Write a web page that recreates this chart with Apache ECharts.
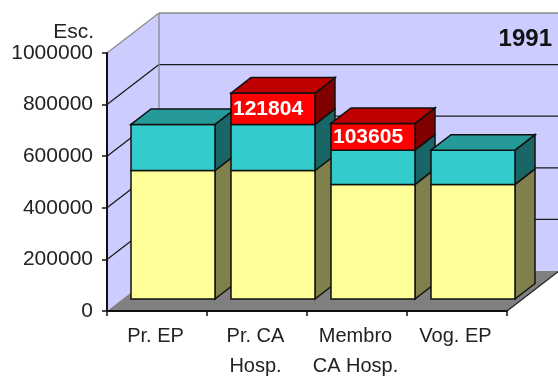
<!DOCTYPE html>
<html>
<head>
<meta charset="utf-8">
<style>html,body{margin:0;padding:0;background:#fff}#c{width:558px;height:377px}</style>
<script src="https://cdn.jsdelivr.net/npm/echarts@6/dist/echarts.min.js"></script>
</head>
<body>
<div id="c"></div>
<script>
// Remuneration by post, 1991, in escudos
const categories = ['Pr. EP', 'Pr. CA\nHosp.', 'Membro\nCA Hosp.', 'Vog. EP'];
const baseValues = [498000, 498000, 444000, 444000];
const middleValues = [178500, 178500, 133000, 133000];
const upperValues = [null, 121804, 103605, null];
const yTicks = [0, 200000, 400000, 600000, 800000, 1000000];

// Front, top and side colours of each stacked layer
const layerColours = [
  { front: '#ffff99', top: '#bfbf73', side: '#80804d' },
  { front: '#33cccc', top: '#269999', side: '#1a6666' },
  { front: '#ff0000', top: '#bf0000', side: '#800000' }
];
const layers = [baseValues, middleValues, upperValues];

// Oblique projection offsets in pixels
const wallDepth = { x: 52, y: -40 };
const barLift = { x: 16, y: -12 };
const barDepth = { x: 20, y: -15.5 };
const barWidth = 84;
const edge = '#111';

// One row per visible box, left to right and bottom to top so nearer boxes paint last
const boxes = [];
categories.forEach((_, c) => {
  let sum = 0;
  const present = layers.map((l, i) => (l[c] == null ? -1 : i)).filter(i => i >= 0);
  const topLayer = present[present.length - 1];
  present.forEach(i => {
    boxes.push([c, sum, sum + layers[i][c], i, i === topLayer ? 1 : 0, layers[i][c]]);
    sum += layers[i][c];
  });
});

const poly = (points, fill, stroke, z2) => ({
  type: 'polygon',
  shape: { points },
  style: { fill, stroke: stroke || null, lineWidth: 1.5, lineJoin: 'miter' },
  z2: z2 || 0
});
const seg = (a, b, stroke, w) => ({
  type: 'line',
  shape: { x1: a[0], y1: a[1], x2: b[0], y2: b[1] },
  style: { stroke, lineWidth: w || 1.3 }
});

function renderWalls(params, api) {
  const cs = params.coordSys;
  const left = cs.x, right = cs.x + cs.width;
  const d = wallDepth;
  const yAt = v => api.coord([0, v])[1];
  const bottom = yAt(0), top = yAt(yTicks[yTicks.length - 1]);
  const children = [
    poly([[left, top], [left + d.x, top + d.y], [left + d.x, bottom + d.y], [left, bottom]], '#ccccff'),
    poly([[left + d.x, top + d.y], [right + d.x, top + d.y], [right + d.x, bottom + d.y], [left + d.x, bottom + d.y]], '#ccccff'),
    poly([[left, bottom], [right, bottom], [right + d.x, bottom + d.y], [left + d.x, bottom + d.y]], '#808080')
  ];
  yTicks.slice(1).forEach((v, i) => {
    const y = yAt(v);
    const isTop = i === yTicks.length - 2;
    const colour = isTop ? '#8c8c8c' : '#1c1c1c';
    children.push(seg([left, y], [left + d.x, y + d.y], colour));
    children.push(seg([left + d.x, y + d.y], [right + d.x, y + d.y], colour));
  });
  children.push(seg([left + d.x, top + d.y], [left + d.x, bottom + d.y], '#8c8c8c'));
  children.push(seg([right, bottom], [right + d.x, bottom + d.y], '#222'));
  return { type: 'group', children };
}

function renderBox(params, api) {
  const c = api.value(0);
  const low = api.value(1), high = api.value(2);
  const layer = api.value(3), isTop = api.value(4) === 1;
  const pal = layerColours[layer];
  const lo = api.coord([c, low]);
  const hi = api.coord([c, high]);
  const x0 = lo[0] + barLift.x - barWidth / 2;
  const x1 = x0 + barWidth;
  const yLow = lo[1] + barLift.y, yHigh = hi[1] + barLift.y;
  const dx = barDepth.x, dy = barDepth.y;
  const children = [
    poly([[x1, yHigh], [x1 + dx, yHigh + dy], [x1 + dx, yLow + dy], [x1, yLow]], pal.side, edge),
    poly([[x0, yHigh], [x1, yHigh], [x1, yLow], [x0, yLow]], pal.front, edge)
  ];
  if (isTop) {
    children.push(poly([[x0, yHigh], [x0 + dx, yHigh + dy], [x1 + dx, yHigh + dy], [x1, yHigh]], pal.top, edge));
  }
  if (layer === 2) {
    children.push({
      type: 'text',
      style: {
        x: x0 + 2,
        y: (yLow + yHigh) / 2,
        text: String(api.value(5)),
        fill: '#fff',
        font: 'bold 21px "Liberation Sans", Arial, sans-serif',
        align: 'left',
        verticalAlign: 'middle'
      },
      z2: 5
    });
  }
  return { type: 'group', children };
}

const fontFamily = '"Liberation Sans", Arial, sans-serif';

const chart = echarts.init(document.getElementById('c'), null, { renderer: 'canvas' });
chart.setOption({
  animation: false,
  backgroundColor: '#fff',
  title: {
    text: '1991',
    right: 1,
    top: 22,
    textStyle: { color: '#111', fontFamily, fontSize: 24, fontWeight: 'bold' }
  },
  grid: { left: 107, right: 51, top: 53, bottom: 66, containLabel: false, outerBoundsMode: 'none' },
  xAxis: {
    type: 'category',
    data: categories,
    axisLine: { show: true, lineStyle: { color: '#111', width: 2 } },
    axisTick: { show: true, length: 5, alignWithLabel: false, lineStyle: { color: '#111', width: 1.5 } },
    axisLabel: {
      color: '#222', fontFamily, fontSize: 20,
      interval: 0, margin: 10, lineHeight: 30, hideOverlap: false, padding: [0, 3, 0, 0]
    },
    splitLine: { show: false },
    z: 3
  },
  yAxis: {
    type: 'value',
    min: 0,
    max: 1000000,
    interval: 200000,
    name: 'Esc.',
    nameLocation: 'end',
    nameGap: 9,
    nameTextStyle: { color: '#222', fontFamily, fontSize: 21, align: 'right', padding: [0, 13, 0, 0] },
    axisLine: { show: true, lineStyle: { color: '#111', width: 2 } },
    axisTick: { show: true, length: 5, lineStyle: { color: '#111', width: 1.5 } },
    axisLabel: {
      color: '#222', fontFamily, fontSize: 21,
      margin: 14, hideOverlap: false, padding: [3, 0, 0, 0], formatter: v => String(v)
    },
    splitLine: { show: false },
    z: 3
  },
  series: [
    {
      type: 'custom',
      coordinateSystem: 'cartesian2d',
      clip: false,
      silent: true,
      z: 1,
      data: [[0, 0]],
      renderItem: renderWalls
    },
    {
      type: 'custom',
      coordinateSystem: 'cartesian2d',
      clip: false,
      silent: true,
      z: 2,
      encode: { x: 0, y: 2 },
      data: boxes,
      renderItem: renderBox
    }
  ]
});
</script>
</body>
</html>
